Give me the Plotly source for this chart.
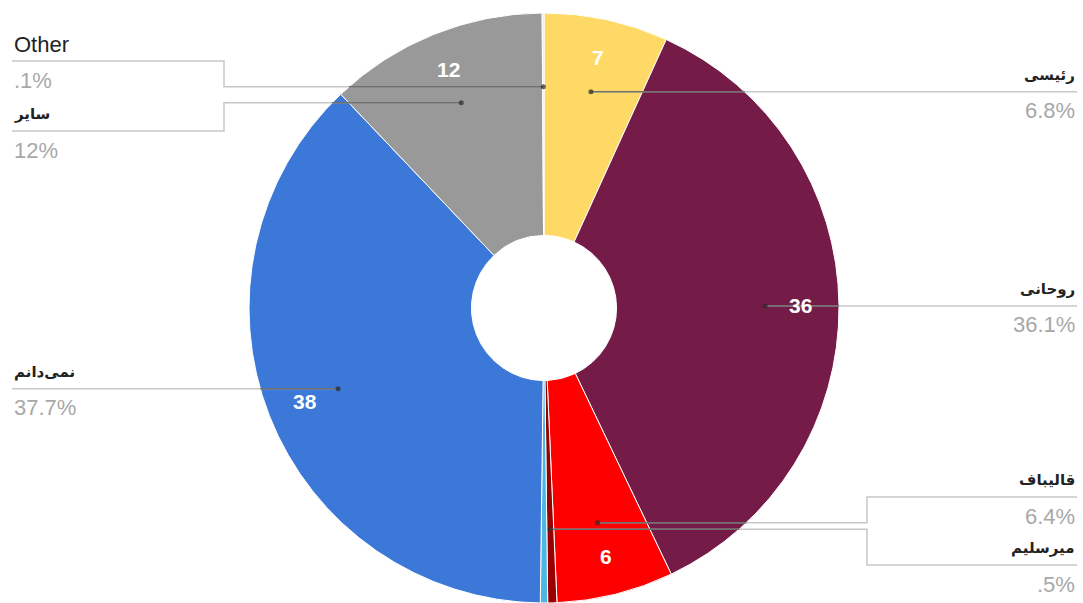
import math
import plotly.graph_objects as go

# ----------------------------------------------------------
# DATA
# ----------------------------------------------------------
labels = ["رئیسی", "روحانی", "قالیباف", "میرسلیم", " ", "نمی‌دانم", "سایر", "Other"]
values = [6.8, 36.1, 6.4, 0.5, 0.4, 37.7, 12, 0.1]
slice_numbers = ["7", "36", "6", "", "", "38", "12", ""]
colors = ["#FFD966", "#741B47", "#FF0000", "#990000", "#4DB6E2",
          "#3C78D8", "#999999", "#E0E0E0"]

# ----------------------------------------------------------
# GEOMETRY (pixels)
# ----------------------------------------------------------
W, H = 1083, 603
CX, CY, R = 544, 308, 295
HOLE = 0.246

# label placement: side, line y (None = anchor y), elbow x
label_layout = {
    "رئیسی": ("right", None, None),
    "روحانی": ("right", None, None),
    "قالیباف": ("right", 497, 867),
    "میرسلیم": ("right", 565, 867),
    "نمی‌دانم": ("left", None, None),
    "سایر": ("left", 131, 224),
    "Other": ("left", 61, 224),
}
LEFT_X, RIGHT_X = 12, 1077

LATIN = "Liberation Sans, Arial, sans-serif"
PERSIAN = "DejaVu Sans, sans-serif"


def px(x):
    return x / W


def py(y):
    return 1 - y / H


def fmt_pct(v):
    s = f"{v:g}"
    if s.startswith("0."):
        s = s[1:]
    return s + "%"


total = sum(values)
mids = []
cum = 0
for v in values:
    mids.append((cum + v / 2) / total * 2 * math.pi)
    cum += v

fig = go.Figure()
fig.add_trace(go.Pie(
    labels=labels,
    values=values,
    sort=False,
    direction="clockwise",
    rotation=0,
    hole=HOLE,
    marker=dict(colors=colors, line=dict(color="white", width=1)),
    textinfo="none",
    showlegend=False,
    domain=dict(x=[px(CX - R), px(CX + R)], y=[py(CY + R), py(CY - R)]),
))

shapes = []
annotations = []

# numbers inside slices
for num, th in zip(slice_numbers, mids):
    if not num:
        continue
    r = 0.87 * R
    annotations.append(dict(
        x=px(CX + r * math.sin(th)), y=py(CY - r * math.cos(th)),
        xref="paper", yref="paper", xanchor="center", yanchor="middle",
        text=f"<b>{num}</b>", showarrow=False,
        font=dict(family=LATIN, size=21, color="white"),
    ))


def inside_part(y, a, b):
    dy = y - CY
    if abs(dy) >= R:
        return None
    half = math.sqrt(R * R - dy * dy)
    lo, hi = max(min(a, b), CX - half), min(max(a, b), CX + half)
    if hi <= lo:
        return None
    return lo, hi


# leader lines and outside labels
for name, v, th in zip(labels, values, mids):
    if name not in label_layout:
        continue
    side, line_y, elbow_x = label_layout[name]
    r = 0.75 * R
    ax, ay = CX + r * math.sin(th), CY - r * math.cos(th)
    if line_y is None:
        line_y = ay
    end_x = RIGHT_X if side == "right" else LEFT_X

    if elbow_x is None:
        pts = [(ax, ay), (end_x, ay)]
    else:
        pts = [(ax, ay), (elbow_x, ay), (elbow_x, line_y), (end_x, line_y)]
    path = "M " + " L ".join(f"{px(x)},{py(y)}" for x, y in pts)
    shapes.append(dict(type="path", path=path, xref="paper", yref="paper",
                       line=dict(color="#C8C8C8", width=1.5)))

    seg = inside_part(ay, ax, pts[1][0])
    if seg:
        shapes.append(dict(type="line", xref="paper", yref="paper",
                           x0=px(seg[0]), x1=px(seg[1]), y0=py(ay), y1=py(ay),
                           line=dict(color="rgba(40,40,40,0.55)", width=1.5)))
    d = 2.5
    shapes.append(dict(type="circle", xref="paper", yref="paper",
                       x0=px(ax - d), x1=px(ax + d), y0=py(ay + d), y1=py(ay - d),
                       fillcolor="rgba(40,40,40,0.7)", line=dict(width=0)))

    anchor = "right" if side == "right" else "left"
    is_latin = name.isascii()
    annotations.append(dict(
        x=px(end_x), y=py(line_y - 17), xref="paper", yref="paper",
        xanchor=anchor, yanchor="middle", showarrow=False,
        text=name if is_latin else f"<b>{name}</b>",
        font=dict(family=LATIN if is_latin else PERSIAN,
                  size=22 if is_latin else 15, color="#222222"),
    ))
    annotations.append(dict(
        x=px(end_x), y=py(line_y + 19), xref="paper", yref="paper",
        xanchor=anchor, yanchor="middle", showarrow=False,
        text=fmt_pct(v),
        font=dict(family=LATIN, size=22, color="#A8A8A8"),
    ))

fig.update_layout(
    width=W,
    height=H,
    margin=dict(l=0, r=0, t=0, b=0),
    paper_bgcolor="white",
    plot_bgcolor="white",
    shapes=shapes,
    annotations=annotations,
)

fig.write_html("out.html", config={"displayModeBar": False},
               post_script="document.body.style.margin='0';")
